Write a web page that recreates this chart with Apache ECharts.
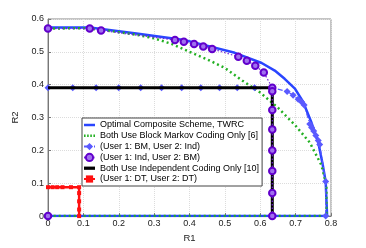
<!DOCTYPE html>
<html>
<head>
<meta charset="utf-8">
<script src="https://cdn.jsdelivr.net/npm/echarts@6/dist/echarts.min.js"></script>
<style>html,body{margin:0;padding:0;background:#fff}#c{width:366px;height:248px}</style>
</head>
<body>
<div id="c"></div>
<script>
var seriesNames = [
  'Optimal Composite Scheme, TWRC',
  'Both Use Block Markov Coding Only [6]',
  '(User 1: BM, User 2: Ind)',
  '(User 1: Ind, User 2: BM)',
  'Both Use Independent Coding Only [10]',
  '(User 1: DT, User 2: DT)'
];
var xTicks = ['0','0.1','0.2','0.3','0.4','0.5','0.6','0.7','0.8'];
var yTicks = ['0','0.1','0.2','0.3','0.4','0.5','0.6'];

var optimal = [[0,0.574],[0.118,0.574],[0.25,0.556],[0.39,0.535],[0.528,0.497],[0.604,0.466],[0.641,0.443],[0.669,0.418],[0.698,0.388],[0.721,0.348],[0.745,0.284],[0.764,0.224],[0.776,0.16],[0.785,0.105],[0.789,0],[0,0]];
var blockMarkov = [[0,0.571],[0.1,0.572],[0.15,0.567],[0.2,0.56],[0.25,0.552],[0.3,0.541],[0.35,0.524],[0.4,0.5],[0.45,0.477],[0.5,0.451],[0.55,0.412],[0.6,0.376],[0.65,0.33],[0.7,0.275],[0.74,0.224],[0.773,0.155],[0.787,0.095],[0.787,0],[0,0]];
var bmInd = [[0,0.391],[0.07,0.391],[0.136,0.391],[0.2,0.391],[0.262,0.391],[0.321,0.391],[0.378,0.391],[0.432,0.391],[0.485,0.391],[0.535,0.391],[0.584,0.391],[0.634,0.391],[0.676,0.379],[0.693,0.368],[0.707,0.356],[0.717,0.347],[0.724,0.338],[0.74,0.28],[0.745,0.27],[0.751,0.259],[0.757,0.245],[0.764,0.23],[0.768,0.218],[0.785,0.105],[0.785,0]];
var indBm = [[0,0],[0,'-'],[0,0.571],[0.118,0.571],[0.15,0.565],[0.359,0.536],[0.384,0.531],[0.413,0.524],[0.439,0.516],[0.464,0.509],[0.538,0.485],[0.562,0.473],[0.586,0.458],[0.61,0.437],[0.634,0.391],[0.634,0.38],[0.634,0.323],[0.634,0.264],[0.634,0.2],[0.634,0.137],[0.634,0.07],[0.634,0]];
var independent = [[0,0.391],[0.634,0.391],[0.634,0]];
var dtdt = [[0,0.088],[0.013,0.088],[0.026,0.088],[0.041,0.088],[0.065,0.088],[0.088,0.088],[0.088,0.07],[0.088,0.045],[0.088,0.02],[0.088,0]];

var font = 'Liberation Sans, Arial, Helvetica, sans-serif';
var lineIcon = 'path://M0,0H44V10H0Z';
var chart = echarts.init(document.getElementById('c'), null, {renderer:'canvas'});
chart.setOption({
  animation: false,
  backgroundColor: '#fff',
  grid: {left:48, top:19, width:283, height:201, show:true, borderColor:'#888', borderWidth:1},
  xAxis: {
    type:'value', min:0, max:0.8, interval:0.1,
    name:'R1', nameLocation:'middle', nameGap:15,
    nameTextStyle:{fontFamily:font, fontSize:9.5, color:'#222'},
    axisLine:{lineStyle:{color:'#777'}},
    axisTick:{inside:true, length:3, lineStyle:{color:'#777'}},
    axisLabel:{fontFamily:font, fontSize:9, color:'#222', margin:3,
      formatter:function(v){return xTicks[Math.round(v*10)];}},
    splitLine:{show:true, lineStyle:{color:'#dcdcdc', type:'dotted'}}
  },
  yAxis: {
    type:'value', min:0, max:0.6, interval:0.1,
    name:'R2', nameLocation:'middle', nameGap:20, nameRotate:90,
    nameTextStyle:{fontFamily:font, fontSize:9.5, color:'#222'},
    axisLine:{show:true, lineStyle:{color:'#777'}},
    axisTick:{show:true, inside:true, length:3, lineStyle:{color:'#777'}},
    axisLabel:{fontFamily:font, fontSize:9, color:'#222', margin:4,
      formatter:function(v){return yTicks[Math.round(v*10)];}},
    splitLine:{show:true, lineStyle:{color:'#dcdcdc', type:'dotted'}}
  },
  legend: {
    orient:'vertical', left:82, top:118,
    data: [
      {name:seriesNames[0], icon:lineIcon, itemStyle:{color:'#2a45ff'}},
      {name:seriesNames[1], icon:'path://M0,0H6V10H0ZM12,0H18V10H12ZM24,0H30V10H24ZM36,0H42V10H36Z', itemStyle:{color:'#22b022'}},
      {name:seriesNames[2]},
      {name:seriesNames[3]},
      {name:seriesNames[4], icon:'path://M0,0H44V13H0Z', itemStyle:{color:'#000'}},
      {name:seriesNames[5]}
    ],
    itemWidth:11, itemHeight:9, itemGap:0.8,
    padding:[2,3,2,1],
    backgroundColor:'#fff', borderColor:'#444', borderWidth:1,
    textStyle:{fontFamily:font, fontSize:9, color:'#000', lineHeight:10}
  },
  series: [
    {name:seriesNames[0], type:'line', data:optimal, showSymbol:false, symbol:'none', z:3,
     lineStyle:{color:'#2a45ff', width:2.5}, itemStyle:{color:'#2a45ff'}},
    {name:seriesNames[1], type:'line', data:blockMarkov, showSymbol:false, symbol:'none', z:4,
     lineStyle:{color:'#22b022', width:2.5, type:[2,3]}, itemStyle:{color:'#22b022'}},
    {name:seriesNames[2], type:'line', data:bmInd, symbol:'diamond', symbolSize:7, z:5,
     lineStyle:{color:'#5a5aff', width:1.2, type:[5,2,1,2]}, itemStyle:{color:'#5a5aff'}},
    {name:seriesNames[3], type:'line', data:indBm, symbol:'circle', symbolSize:6.5, z:7, connectNulls:false,
     lineStyle:{color:'#7020d8', width:1.2, type:[1.5,2]}, itemStyle:{color:'#a070ee', borderColor:'#6200cc', borderWidth:2}},
    {name:seriesNames[4], type:'line', data:independent, showSymbol:false, symbol:'none', z:6,
     lineStyle:{color:'#000', width:3}, itemStyle:{color:'#000'}},
    {name:seriesNames[5], type:'line', data:dtdt, symbol:'rect', symbolSize:4, z:8,
     lineStyle:{color:'#ff1010', width:2.5}, itemStyle:{color:'#ff1010'}}
  ]
});
</script>
</body>
</html>
